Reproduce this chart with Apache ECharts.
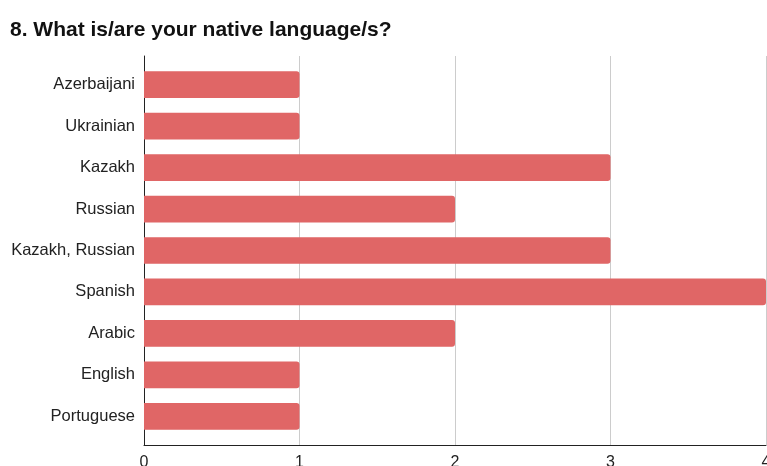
<!DOCTYPE html>
<html>
<head>
<meta charset="utf-8">
<script src="https://cdn.jsdelivr.net/npm/echarts@6/dist/echarts.min.js"></script>
<style>
html, body { margin: 0; padding: 0; background: #fff; }
#main { width: 767px; height: 466px; }
</style>
</head>
<body>
<div id="main"></div>
<script>
var languages = ['Azerbaijani', 'Ukrainian', 'Kazakh', 'Russian', 'Kazakh, Russian', 'Spanish', 'Arabic', 'English', 'Portuguese'];
var counts = [1, 1, 3, 2, 3, 4, 2, 1, 1];
var ticks = [0, 1, 2, 3, 4];

var myChart = echarts.init(document.getElementById('main'));
var font = 'Liberation Sans, Arial, sans-serif';

var option = {
	animation: false,
	title: {
		text: '8. What is/are your native language/s?',
		left: 5,
		top: 15,
		textStyle: {
			fontFamily: font,
			fontSize: 21,
			fontWeight: 'bold',
			color: '#111'
		}
	},
	// grid 0: axes frame + gridlines, grid 1: bars (a bit of padding top/bottom)
	grid: [{
		left: 144, right: 1, top: 56, bottom: 21,
		containLabel: false, outerBoundsMode: 'none'
	}, {
		left: 144, right: 1, top: 64, bottom: 29,
		containLabel: false, outerBoundsMode: 'none'
	}],
	xAxis: [{
		gridIndex: 0,
		type: 'value',
		min: ticks[0],
		max: ticks[ticks.length - 1],
		interval: 1,
		axisLine: { show: true, lineStyle: { color: '#222', width: 1 } },
		axisTick: { show: false },
		splitLine: { show: true, lineStyle: { color: '#cccccc' } },
		axisLabel: { margin: 10, fontFamily: font, fontSize: 16, color: '#222' }
	}, {
		gridIndex: 1,
		type: 'value',
		min: ticks[0],
		max: ticks[ticks.length - 1],
		interval: 1,
		show: false
	}],
	yAxis: [{
		gridIndex: 0,
		type: 'value',
		min: 0,
		max: 1,
		axisLine: { show: true, lineStyle: { color: '#222', width: 1 } },
		axisTick: { show: false },
		axisLabel: { show: false },
		splitLine: { show: false }
	}, {
		gridIndex: 1,
		type: 'category',
		inverse: true,
		data: languages,
		axisLine: { show: false },
		axisTick: { show: false },
		splitLine: { show: false },
		axisLabel: { margin: 9, fontFamily: font, fontSize: 16.5, color: '#222' }
	}],
	series: [{
		type: 'bar',
		xAxisIndex: 1,
		yAxisIndex: 1,
		data: counts,
		barCategoryGap: '35.5%',
		itemStyle: {
			color: '#e06666',
			borderRadius: [0, 3, 3, 0]
		}
	}]
};

myChart.setOption(option);
</script>
</body>
</html>
